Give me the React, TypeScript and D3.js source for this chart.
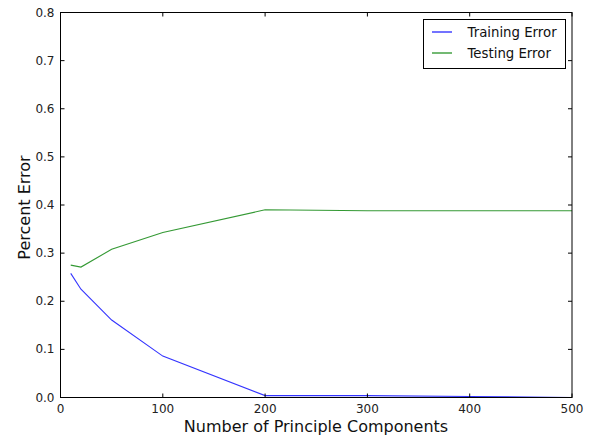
import React from 'react';
import * as d3 from 'd3';

// number of principal components tried
const components = [10, 20, 50, 100, 200, 300, 400, 500];
const trainingError = [0.258, 0.225, 0.161, 0.086, 0.004, 0.004, 0.002, 0.0];
const testingError = [0.275, 0.271, 0.308, 0.343, 0.39, 0.388, 0.388, 0.388];

const xTicks = [0, 100, 200, 300, 400, 500];
const yTicks = [0, 0.1, 0.2, 0.3, 0.4, 0.5, 0.6, 0.7, 0.8];

const seriesNames = ['Training Error', 'Testing Error'];
const seriesColors = ['#0000ff', '#008000'];

const width = 598;
const height = 439;
const margin = { top: 12.5, right: 26, bottom: 41.5, left: 60.5 };
const font = 'DejaVu Sans, sans-serif';

export default function App() {
	const x = d3
		.scaleLinear()
		.domain([0, 500])
		.range([margin.left, width - margin.right]);
	const y = d3
		.scaleLinear()
		.domain([0, 0.8])
		.range([height - margin.bottom, margin.top]);

	const line = d3
		.line<number>()
		.x((d, i) => x(components[i]))
		.y(d => y(d));

	const series = [trainingError, testingError];
	const x0 = margin.left;
	const x1 = width - margin.right;
	const y0 = height - margin.bottom;
	const y1 = margin.top;
	const tick = 4;

	return (
		<div style={{ position: 'fixed', left: 0, top: 0 }}>
			<svg width={width} height={height} style={{ display: 'block', background: '#fff' }}>
				{series.map((s, k) => (
					<path key={k} d={line(s) || ''} fill="none" stroke={seriesColors[k]} strokeWidth={1.1} opacity={0.8} />
				))}

				{/* ticks on all four sides, pointing in */}
				{xTicks.map(t => (
					<g key={'x' + t}>
						<line x1={x(t)} x2={x(t)} y1={y0} y2={y0 - tick} stroke="#000" />
						<line x1={x(t)} x2={x(t)} y1={y1} y2={y1 + tick} stroke="#000" />
						<text x={x(t)} y={y0 + 15} textAnchor="middle" fontSize={12} fontFamily={font} fill="#222">
							{t}
						</text>
					</g>
				))}
				{yTicks.map(t => (
					<g key={'y' + t}>
						<line x1={x0} x2={x0 + tick} y1={y(t)} y2={y(t)} stroke="#000" />
						<line x1={x1} x2={x1 - tick} y1={y(t)} y2={y(t)} stroke="#000" />
						<text x={x0 - 6} y={y(t) + 4} textAnchor="end" fontSize={12} fontFamily={font} fill="#222">
							{t.toFixed(1)}
						</text>
					</g>
				))}

				<rect x={x0} y={y1} width={x1 - x0} height={y0 - y1} fill="none" stroke="#000" strokeWidth={1} />

				<text x={316} y={432} textAnchor="middle" fontSize={16} fontFamily={font} fill="#111">
					Number of Principle Components
				</text>
				<text
					transform={`translate(29.5,207.5) rotate(-90)`}
					textAnchor="middle"
					fontSize={16}
					fontFamily={font}
					fill="#111"
				>
					Percent Error
				</text>

				{/* legend */}
				<g>
					<rect x={423.5} y={19.5} width={142} height={49} fill="#fff" stroke="#000" />
					{seriesNames.map((n, k) => (
						<g key={n}>
							<line x1={432} x2={452} y1={32 + k * 21} y2={32 + k * 21} stroke={seriesColors[k]} strokeWidth={1.1} />
							<text x={467.5} y={37 + k * 21} fontSize={13.3} fontFamily={font} fill="#111">
								{n}
							</text>
						</g>
					))}
				</g>
			</svg>
		</div>
	);
}
